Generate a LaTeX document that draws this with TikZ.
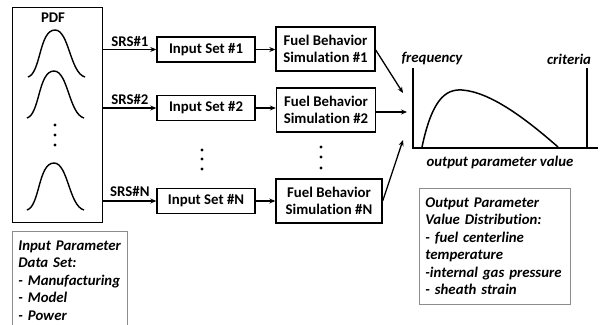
\documentclass[tikz,border=0pt]{standalone}
\usepackage{fontspec}
\setmainfont{Carlito}[Ligatures=NoCommon]
\usetikzlibrary{arrows.meta}
\tikzset{
  x=1pt, y=-1pt,
  txt/.style={font=\fontsize{14.8}{17.5}\selectfont\bfseries},
  itxt/.style={font=\fontsize{14.8}{17.5}\selectfont\bfseries\itshape},
  stepbox/.style={draw, line width=1.4pt, txt, inner xsep=5pt, inner ysep=2pt},
  simbox/.style={draw, line width=1.4pt, txt, align=center, inner xsep=6pt, inner ysep=3pt, minimum width=99pt, minimum height=44pt},
  arr/.style={line width=1.3pt, -{Stealth[length=6pt,width=5pt]}},
  infobox/.style={draw=black!45, line width=0.8pt, itxt, align=left, anchor=north west, inner xsep=6pt, inner ysep=5pt},
  bellline/.style={line width=1.4pt},
  pics/bell/.style={code={
    \draw[bellline] (-27,0) .. controls (-14,-4) and (-16,-47) .. (0,-47)
                    .. controls (14,-47) and (15,-4) .. (30,0);
  }}
}
\begin{document}
\begin{tikzpicture}
\useasboundingbox (0,0) rectangle (601,324);
\clip (0,0) rectangle (601,324);

% distribution panel
\node[draw, line width=1.4pt, minimum width=90pt, minimum height=215pt, anchor=north west] (pdf) at (12,7) {};
\node[txt] (pdflabel) at (53,18) {PDF};
\pic at (55,77) {bell};
\pic at (54,118) {bell};
\pic at (54,210) {bell};
\foreach \yy in {125,135,145} \fill (55,\yy) circle (1.6);

% sampled input sets
\node[stepbox, minimum width=98pt, minimum height=25pt] (in1) at (206,49.5) {Input Set \#1};
\node[stepbox, minimum width=98pt, minimum height=25pt] (in2) at (206,108) {Input Set \#2};
\node[stepbox, minimum width=98pt, minimum height=25pt] (inN) at (206,201) {Input Set \#N};
\foreach \yy in {150,159,169} \fill (202,\yy) circle (1.6);

\draw[arr] (pdf.east |- in1) -- node[txt, above=-1pt] {SRS\#1} (in1.west);
\draw[arr] (pdf.east |- in2) -- node[txt, above=-1pt] {SRS\#2} (in2.west);
\draw[arr] (pdf.east |- inN) -- node[txt, above=0pt] {SRS\#N} (inN.west);

% fuel behaviour simulations
\node[simbox] (sim1) at (325.5,49) {Fuel Behavior\\Simulation \#1};
\node[simbox] (sim2) at (326,110) {Fuel Behavior\\Simulation \#2};
\node[simbox, minimum width=106pt] (simN) at (329,201) {Fuel Behavior\\Simulation \#N};
\foreach \yy in {147,157,168} \fill (321,\yy) circle (1.6);

\draw[arr] (in1.east) -- (sim1.west |- in1);
\draw[arr] (in2.east) -- (sim2.west |- in2);
\draw[arr] (inN.east) -- (simN.west |- inN);

% output distribution plot
\coordinate (origin) at (413,148);
\coordinate (ytop) at (413,68);
\coordinate (xend) at (598,148);
\coordinate (crit) at (587,68);
\coordinate (tip1) at (403,93);
\coordinate (tip2) at (407,112);
\coordinate (tipN) at (403,140);
\draw[line width=2pt] (ytop) -- (origin) -- (xend);
\draw[line width=2pt] (crit) -- (crit |- origin);
\draw[line width=1.5pt] (422,147) .. controls (432,100) and (445,89) .. (462,90)
      .. controls (490,92) and (525,118) .. (558,147);
\node[itxt, anchor=west] (freq) at (398,59) {frequency};
\node[itxt] (critlabel) at (569,59) {criteria};
\node[itxt] (xlabel) at (500,162) {output parameter value};

\draw[arr] (sim1.east) ++(0,1) -- (tip1);
\draw[arr] (sim2.east |- tip2) -- (tip2);
\draw[arr] (simN.east) -- (tipN);

% parameter lists
\node[infobox, text width=139pt, minimum height=116pt] (outlist) at (419,188) {Output Parameter\\Value Distribution:\\- fuel centerline\\temperature\\-internal gas pressure\\- sheath strain};
\node[infobox, text width=103pt, inner ysep=9pt] (inlist) at (12,231) {Input Parameter\\Data Set:\\- Manufacturing\\- Model\\- Power\strut};
\end{tikzpicture}
\end{document}
